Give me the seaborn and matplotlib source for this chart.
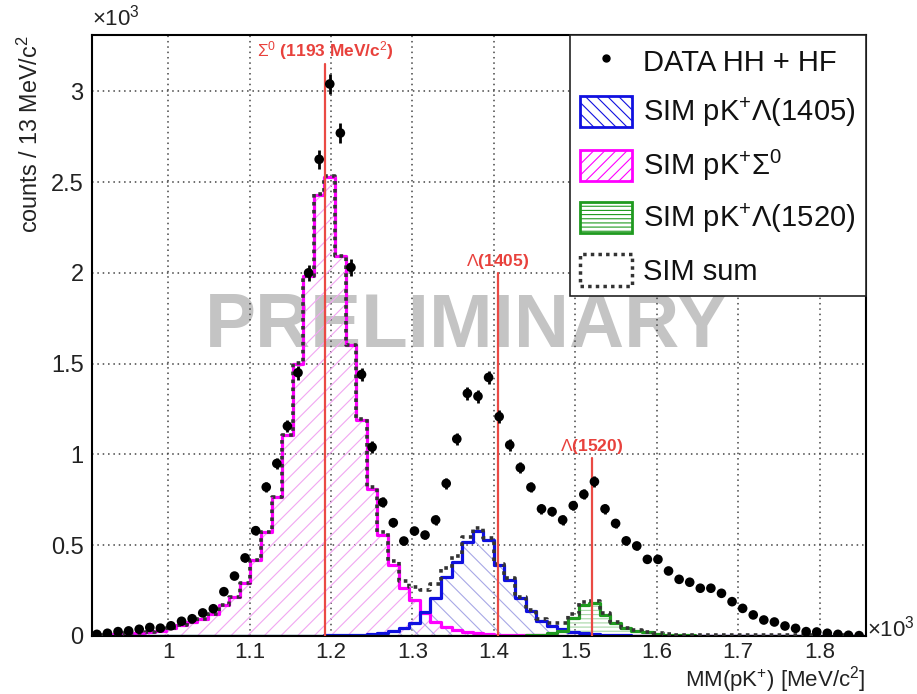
import numpy as np
import matplotlib
matplotlib.use("Agg")
import matplotlib.pyplot as plt
from matplotlib.patches import Patch
from matplotlib.lines import Line2D
from matplotlib.ticker import MultipleLocator
import seaborn as sns

# binning: 13 MeV/c2 bins, x axis in units of 10^3 MeV/c2
bin_lo = 0.906
bin_w = 0.013
n_bins = 73

# counts per bin, in units of 10^3
data_k = [0.009, 0.015, 0.024, 0.028, 0.037, 0.047, 0.043, 0.056, 0.081, 0.095,
          0.127, 0.150, 0.244, 0.330, 0.430, 0.580, 0.820, 0.950, 1.156, 1.450,
          2.000, 2.625, 3.040, 2.770, 2.030, 1.440, 1.040, 0.736, 0.624, 0.523,
          0.578, 0.556, 0.639, 0.840, 1.085, 1.336, 1.320, 1.424, 1.208, 1.052,
          0.927, 0.819, 0.700, 0.685, 0.639, 0.718, 0.780, 0.850, 0.700, 0.620,
          0.524, 0.496, 0.422, 0.422, 0.358, 0.312, 0.296, 0.263, 0.263, 0.235,
          0.189, 0.152, 0.116, 0.088, 0.077, 0.055, 0.042, 0.024, 0.022, 0.015,
          0.009, 0.004, 0.002]

sim_sigma_k = [0.004, 0.006, 0.009, 0.013, 0.017, 0.022, 0.030, 0.045, 0.058, 0.075,
               0.092, 0.120, 0.170, 0.216, 0.290, 0.418, 0.574, 0.767, 1.107, 1.500,
               1.980, 2.430, 2.530, 2.090, 1.600, 1.190, 0.810, 0.556, 0.390, 0.262,
               0.200, 0.125, 0.075, 0.050, 0.032, 0.023, 0.016, 0.011, 0.008, 0.006,
               0.005, 0.004, 0.003, 0.003, 0.002, 0.002, 0.002, 0.002, 0.002, 0.002,
               0.001, 0.001, 0.001, 0.001, 0.001, 0.001, 0.001, 0.001, 0.001, 0.001,
               0.001, 0.001, 0.001, 0.001, 0.001, 0.001, 0.001, 0.001, 0.001, 0.001,
               0.001, 0.001, 0.001]

sim_l1405_k = [0.001, 0.001, 0.001, 0.001, 0.001, 0.001, 0.001, 0.001, 0.001, 0.001,
               0.001, 0.001, 0.001, 0.001, 0.001, 0.001, 0.001, 0.001, 0.001, 0.001,
               0.002, 0.002, 0.003, 0.004, 0.005, 0.007, 0.010, 0.015, 0.025, 0.042,
               0.070, 0.130, 0.210, 0.325, 0.410, 0.520, 0.578, 0.530, 0.390, 0.310,
               0.210, 0.135, 0.083, 0.055, 0.038, 0.024, 0.015, 0.010, 0.006, 0.004,
               0.003, 0.002, 0.002, 0.002, 0.002, 0.001, 0.001, 0.001, 0.001, 0.001,
               0.001, 0.001, 0.001, 0.001, 0.001, 0.001, 0.001, 0.001, 0.001, 0.001,
               0.001, 0.001, 0.001]

sim_l1520_k = [0.0, 0.0, 0.0, 0.0, 0.0, 0.0, 0.0, 0.0, 0.0, 0.0,
               0.0, 0.0, 0.0, 0.0, 0.0, 0.0, 0.0, 0.0, 0.0, 0.0,
               0.0, 0.0, 0.0, 0.0, 0.0, 0.0, 0.0, 0.0, 0.0, 0.0,
               0.0, 0.0, 0.0, 0.0, 0.0, 0.0, 0.0, 0.0, 0.0, 0.001,
               0.002, 0.004, 0.008, 0.015, 0.030, 0.097, 0.170, 0.180, 0.116, 0.070,
               0.042, 0.030, 0.020, 0.012, 0.008, 0.005, 0.003, 0.002, 0.001, 0.001,
               0.001, 0.001, 0.001, 0.001, 0.001, 0.001, 0.001, 0.001, 0.001, 0.001,
               0.001, 0.001, 0.001]

# resonance markers: mass, line top, label
res_mass = [1.193, 1.405, 1.520]
res_top = [3.15, 2.00, 0.98]
res_label = ["$\\Sigma^0$ (1193 MeV/c$^2$)", "$\\Lambda$(1405)", "$\\Lambda$(1520)"]

sns.set_style("white")
plt.rcParams["font.family"] = ["Liberation Sans", "DejaVu Sans"]
plt.rcParams["mathtext.fontset"] = "custom"
plt.rcParams["mathtext.rm"] = "Liberation Sans"
plt.rcParams["mathtext.it"] = "Liberation Sans:italic"
plt.rcParams["mathtext.bf"] = "Liberation Sans:bold"
plt.rcParams["hatch.linewidth"] = 0.8

edges = list(bin_lo + bin_w * np.arange(n_bins + 1))
centers = [0.5 * (a + b) for a, b in zip(edges[:-1], edges[1:])]
sim_sum_k = np.array(sim_sigma_k) + np.array(sim_l1405_k) + np.array(sim_l1520_k)

fig = plt.figure(figsize=(9.17, 6.94), dpi=100)
ax = fig.add_axes([0.1003, 0.0836, 0.8441, 0.866])

# watermark
ax.text(1.366, 1.70, "PRELIMINARY", fontsize=55, fontweight="bold", color="#c4c4c4",
        ha="center", va="center", zorder=0.5)

hists = [
    (sim_sigma_k, "#ff00ff", "#f2a6f2", "//"),
    (sim_l1405_k, "#1010e0", "#a8a8e6", "\\\\"),
    (sim_l1520_k, "#1f9a1f", "#a6d8a6", "----"),
]
for vals, lc, hc, hatch in hists:
    sns.histplot(x=centers, weights=vals, bins=edges, element="step", fill=True,
                 color=hc, facecolor="none", edgecolor=hc, hatch=hatch, linewidth=0,
                 ax=ax, zorder=1)
for vals, lc, hc, hatch in hists:
    sns.histplot(x=centers, weights=vals, bins=edges, element="step", fill=False,
                 color=lc, linewidth=2.3, ax=ax, zorder=2)
sns.histplot(x=centers, weights=sim_sum_k, bins=edges, element="step", fill=False,
             color="#333333", linewidth=2.6, linestyle=(0, (1, 1.2)), ax=ax, zorder=3)

# data points with statistical errors
data_arr = np.array(data_k)
ax.errorbar(centers, data_arr, yerr=np.sqrt(data_arr * 1000) / 1000, fmt="none",
            ecolor="black", elinewidth=2, zorder=4)
sns.scatterplot(x=centers, y=data_arr, color="black", s=48, edgecolor="none", ax=ax, zorder=5)

# resonance lines
for m, top, lab in zip(res_mass, res_top, res_label):
    ax.plot([m, m], [0, top], color="#ea4a44", lw=1.6, zorder=3.5)
    ax.text(m, top + 0.01, lab, color="#e8413c", fontsize=12.5, fontweight="bold",
            ha="center", va="bottom")

ax.set_xlim(0.9065, 1.857)
ax.set_ylim(0, 3.31)
ax.xaxis.set_minor_locator(MultipleLocator(0.02))
ax.yaxis.set_minor_locator(MultipleLocator(0.1))
ax.set_xticks(np.arange(1.0, 1.81, 0.1))
ax.set_xticklabels(["1", "1.1", "1.2", "1.3", "1.4", "1.5", "1.6", "1.7", "1.8"])
ax.set_yticks([0, 0.5, 1, 1.5, 2, 2.5, 3])
ax.set_yticklabels(["0", "0.5", "1", "1.5", "2", "2.5", "3"])
ax.tick_params(axis="both", which="both", direction="in", top=False, right=False,
               labelsize=17, colors="black", labelcolor="#222222")
ax.tick_params(axis="y", which="major", length=16, width=1.2, pad=6)
ax.tick_params(axis="y", which="minor", length=8, width=1.2)
ax.tick_params(axis="x", which="major", length=13, width=1.2, pad=4, labelsize=16)
ax.tick_params(axis="x", which="minor", length=6.5, width=1.2)
ax.grid(which="major", linestyle=(0, (1, 2.5)), color="#444444", linewidth=1.1)
for s in ax.spines.values():
    s.set_linewidth(1.5)
    s.set_color("black")

ax.set_ylabel("counts / 13 MeV/c$^2$", loc="top", fontsize=16.8, labelpad=6, color="#222222")
ax.set_xlabel("MM(pK$^{+}$) [MeV/c$^2$]", loc="right", fontsize=16, labelpad=1,
              color="#222222")
fig.text(0.1, 0.975, "×10$^3$", fontsize=16, ha="left", va="center", color="#222222")
fig.text(0.945, 0.095, "×10$^3$", fontsize=16, ha="left", va="center", color="#222222")

handles = [
    Line2D([], [], marker="o", color="black", linestyle="none", markersize=5),
    Patch(facecolor="none", edgecolor="#1010e0", hatch="\\\\\\", linewidth=2),
    Patch(facecolor="none", edgecolor="#ff00ff", hatch="///", linewidth=2),
    Patch(facecolor="none", edgecolor="#1f9a1f", hatch="----", linewidth=2),
    Patch(facecolor="none", edgecolor="#333333", linestyle=(0, (1, 1.2)), linewidth=2.5),
]
labels = ["DATA HH + HF", "SIM pK$^{+}\\Lambda$(1405)", "SIM pK$^{+}\\Sigma^0$",
          "SIM pK$^{+}\\Lambda$(1520)", "SIM sum"]
leg = ax.legend(handles, labels, loc="upper right", borderaxespad=0, fontsize=21,
                handlelength=1.8, handleheight=1.28, labelspacing=0.64, handletextpad=0.38,
                borderpad=0.35, fancybox=False, framealpha=1, edgecolor="#222222")
leg.get_frame().set_linewidth(1.2)
for t in leg.get_texts():
    t.set_color("#111111")

fig.savefig("out.png", dpi=100)
